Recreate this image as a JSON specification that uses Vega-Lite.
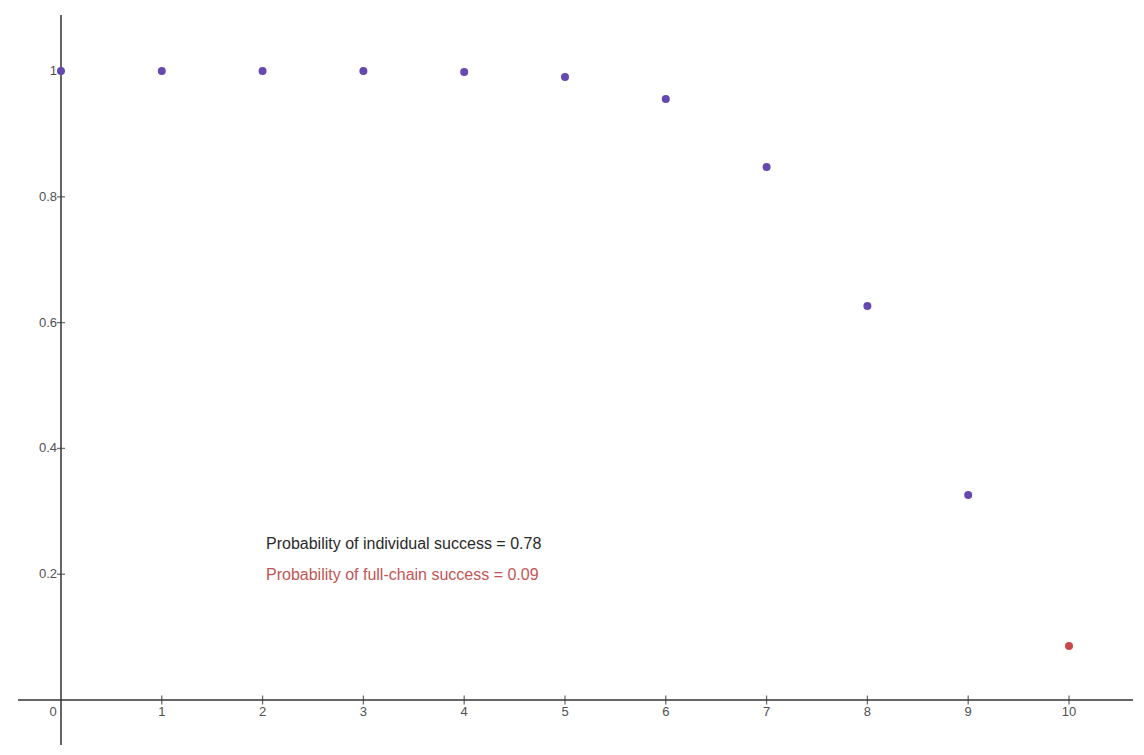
{
  "$schema": "https://vega.github.io/schema/vega-lite/v6.json",
  "width": 1144,
  "height": 755,
  "padding": 0,
  "autosize": {"type": "none"},
  "background": "white",
  "config": {"view": {"stroke": null}},
  "datasets": {
    "points": [
      {"x": 0, "y": 1.0, "series": "individual"},
      {"x": 1, "y": 1.0, "series": "individual"},
      {"x": 2, "y": 1.0, "series": "individual"},
      {"x": 3, "y": 1.0, "series": "individual"},
      {"x": 4, "y": 0.9984, "series": "individual"},
      {"x": 5, "y": 0.9905, "series": "individual"},
      {"x": 6, "y": 0.9555, "series": "individual"},
      {"x": 7, "y": 0.8474, "series": "individual"},
      {"x": 8, "y": 0.6264, "series": "individual"},
      {"x": 9, "y": 0.3259, "series": "individual"},
      {"x": 10, "y": 0.0859, "series": "full"}
    ],
    "axes": [
      {"x": -0.427, "x2": 10.635, "y": 0, "y2": 0},
      {"x": 0, "x2": 0, "y": 1.089, "y2": -0.0715}
    ],
    "xticks": [
      {"x": 1, "y": 0, "label": "1"}, {"x": 2, "y": 0, "label": "2"},
      {"x": 3, "y": 0, "label": "3"}, {"x": 4, "y": 0, "label": "4"},
      {"x": 5, "y": 0, "label": "5"}, {"x": 6, "y": 0, "label": "6"},
      {"x": 7, "y": 0, "label": "7"}, {"x": 8, "y": 0, "label": "8"},
      {"x": 9, "y": 0, "label": "9"}, {"x": 10, "y": 0, "label": "10"}
    ],
    "yticks": [
      {"x": 0, "y": 0.2, "label": "0.2"}, {"x": 0, "y": 0.4, "label": "0.4"},
      {"x": 0, "y": 0.6, "label": "0.6"}, {"x": 0, "y": 0.8, "label": "0.8"},
      {"x": 0, "y": 1, "label": "1"}
    ],
    "notes": [
      {"x": 2.034, "y": 0.248, "label": "Probability of individual success = 0.78", "series": "individual"},
      {"x": 2.034, "y": 0.1987, "label": "Probability of full-chain success = 0.09", "series": "full"}
    ]
  },
  "encoding": {
    "x": {"field": "x", "type": "quantitative", "scale": {"domain": [-0.605, 10.744], "nice": false, "zero": false}, "axis": null},
    "y": {"field": "y", "type": "quantitative", "scale": {"domain": [-0.0874, 1.1129], "nice": false, "zero": false}, "axis": null}
  },
  "layer": [
    {
      "data": {"name": "axes"},
      "mark": {"type": "rule", "color": "#333333", "strokeWidth": 1.5},
      "encoding": {"x2": {"field": "x2"}, "y2": {"field": "y2"}}
    },
    {
      "data": {"name": "xticks"},
      "mark": {"type": "tick", "orient": "vertical", "size": 9, "color": "#333333", "thickness": 1.3}
    },
    {
      "data": {"name": "yticks"},
      "mark": {"type": "tick", "orient": "horizontal", "size": 8, "color": "#333333", "thickness": 1.3}
    },
    {
      "data": {"name": "xticks"},
      "mark": {"type": "text", "font": "Liberation Sans", "fontSize": 13, "fill": "#505050", "baseline": "middle", "align": "center", "dy": 12},
      "encoding": {"text": {"field": "label"}}
    },
    {
      "data": {"values": [{"x": 0, "y": 0, "label": "0"}]},
      "mark": {"type": "text", "font": "Liberation Sans", "fontSize": 13, "fill": "#505050", "baseline": "middle", "align": "center", "dx": -8, "dy": 12},
      "encoding": {"text": {"field": "label"}}
    },
    {
      "data": {"name": "yticks"},
      "mark": {"type": "text", "font": "Liberation Sans", "fontSize": 13, "fill": "#505050", "baseline": "middle", "align": "right", "dx": -4},
      "encoding": {"text": {"field": "label"}}
    },
    {
      "data": {"name": "points"},
      "mark": {"type": "circle", "size": 64, "opacity": 1},
      "encoding": {
        "color": {"field": "series", "type": "nominal", "scale": {"domain": ["individual", "full"], "range": ["#6548b0", "#c74a4a"]}, "legend": null}
      }
    },
    {
      "data": {"name": "notes"},
      "mark": {"type": "text", "font": "Liberation Sans", "fontSize": 16, "align": "left", "baseline": "middle"},
      "encoding": {
        "text": {"field": "label"},
        "color": {"field": "series", "type": "nominal", "scale": {"domain": ["individual", "full"], "range": ["#2a2a2a", "#c25555"]}, "legend": null}
      }
    }
  ],
  "resolve": {"scale": {"color": "independent"}}
}
